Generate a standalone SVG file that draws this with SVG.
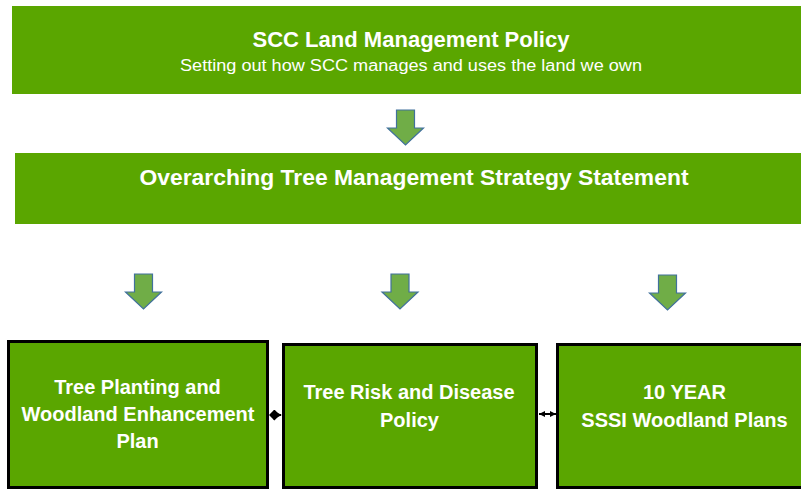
<svg xmlns="http://www.w3.org/2000/svg" width="801" height="489" viewBox="0 0 801 489">
<style>
.band{fill:#5AA600;}
.box{fill:#5AA600;stroke:#000;stroke-width:3;}
.arr{fill:#70AD47;stroke:#41719C;stroke-width:1.2;stroke-linejoin:miter;}
.t{font-family:"Liberation Sans",Arial,sans-serif;fill:#fff;text-anchor:middle;}
.b{font-weight:bold;}
.con{stroke:#000;stroke-width:2;fill:none;}
</style>
<defs>
<marker id="ah" viewBox="0 0 10 10" refX="9" refY="5" markerWidth="4.5" markerHeight="4.5" orient="auto-start-reverse" markerUnits="strokeWidth">
<path d="M0,0 L10,5 L0,10 Z" fill="#000"/>
</marker>
<marker id="ahs" viewBox="0 0 10 10" refX="10" refY="5" markerWidth="3" markerHeight="4" orient="auto-start-reverse" markerUnits="strokeWidth">
<path d="M0,0 L10,5 L0,10 Z" fill="#000"/>
</marker>
<marker id="dm" viewBox="0 0 10 10" refX="1" refY="5" markerWidth="5.5" markerHeight="5.5" orient="auto" markerUnits="strokeWidth">
<path d="M0,5 L5,0 L10,5 L5,10 Z" fill="#000"/>
</marker>
<path id="down" d="M-9,0 H9 V18 H18 L0,35 L-18,18 H-9 Z"/>
</defs>
<rect width="801" height="489" fill="#fff"/>
<g id="node-policy">
<rect class="band" x="12" y="6" width="795" height="88"/>
<text class="t b" x="411" y="47" font-size="22" textLength="317" lengthAdjust="spacingAndGlyphs">SCC Land Management Policy</text>
<text class="t" x="411" y="71" font-size="16" textLength="462" lengthAdjust="spacingAndGlyphs">Setting out how SCC manages and uses the land we own</text>
</g>
<g id="node-strategy">
<rect class="band" x="15" y="153" width="792" height="71"/>
<text class="t b" x="414" y="185" font-size="22" textLength="549" lengthAdjust="spacingAndGlyphs">Overarching Tree Management Strategy Statement</text>
</g>
<g id="node-planting">
<rect class="box" x="8.5" y="341.5" width="259" height="146"/>
<text class="t b" font-size="20"><tspan x="137.5" y="394">Tree Planting and</tspan><tspan x="138" y="421">Woodland Enhancement</tspan><tspan x="137.5" y="448">Plan</tspan></text>
</g>
<g id="node-risk">
<rect class="box" x="283.5" y="344.5" width="253" height="143"/>
<text class="t b" font-size="20"><tspan x="409" y="399">Tree Risk and Disease</tspan><tspan x="409.5" y="427">Policy</tspan></text>
</g>
<g id="node-sssi">
<rect class="box" x="557.5" y="344.5" width="250" height="143"/>
<text class="t b" font-size="20"><tspan x="684.5" y="399">10 YEAR</tspan><tspan x="684.5" y="427">SSSI Woodland Plans</tspan></text>
</g>
<g id="connectors">
<use href="#down" class="arr" x="405.5" y="110"/>
<use href="#down" class="arr" x="143.5" y="274"/>
<use href="#down" class="arr" x="400" y="274"/>
<use href="#down" class="arr" x="667.5" y="275"/>
<line class="con" x1="270" y1="415" x2="281" y2="415" marker-start="url(#dm)" marker-end="url(#ah)"/>
<line class="con" x1="539" y1="414" x2="556" y2="414" marker-start="url(#ahs)" marker-end="url(#ahs)"/>
</g>
</svg>
